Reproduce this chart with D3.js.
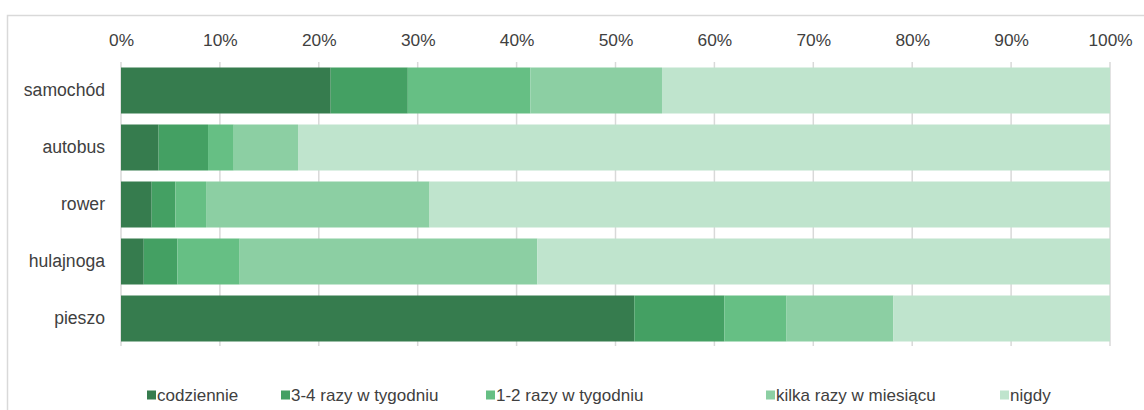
<!DOCTYPE html>
<html><head><meta charset="utf-8">
<script src="https://cdn.jsdelivr.net/npm/d3@7/dist/d3.min.js"></script>
<style>
html,body{margin:0;padding:0;background:#fff;}
svg{display:block;font-family:"Liberation Sans",Arial,sans-serif;}
</style></head>
<body>
<svg id="chart" width="1144" height="410"></svg>
<script>
const categories = ["samochód","autobus","rower","hulajnoga","pieszo"];
const seriesNames = ["codziennie","3-4 razy w tygodniu","1-2 razy w tygodniu","kilka razy w miesiącu","nigdy"];
const codziennie = [21.2, 3.8, 3.1, 2.3, 51.9];
const razy34     = [7.8, 5.0, 2.4, 3.4, 9.1];
const razy12     = [12.4, 2.6, 3.1, 6.3, 6.3];
const kilka      = [13.3, 6.5, 22.6, 30.1, 10.8];
const nigdy      = [45.3, 82.1, 68.8, 57.9, 21.9];
const tickValues = [0,10,20,30,40,50,60,70,80,90,100];
const colors = ["#367c4e","#44a063","#66bf84","#8ccfa3","#bfe4cd"];

const seriesValues = [codziennie, razy34, razy12, kilka, nigdy];
const rows = categories.map((c,i)=>{
  const o = {cat:c};
  seriesNames.forEach((s,j)=>{ o[s]=seriesValues[j][i]; });
  return o;
});

const svg = d3.select("#chart");
svg.append("rect").attr("x",7.5).attr("y",15.5).attr("width",1300).attr("height",600)
  .attr("fill","none").attr("stroke","#d9d9d9").attr("stroke-width",1.5);

const x = d3.scaleLinear().domain([0,100]).range([121,1110]);
const y = d3.scaleBand().domain(categories).range([62,347]).paddingInner(0.193).paddingOuter(0.0965);

svg.append("g").selectAll("line").data(tickValues).join("line")
  .attr("x1",d=>x(d)).attr("x2",d=>x(d)).attr("y1",62).attr("y2",346)
  .attr("stroke","#d9d9d9").attr("stroke-width",1.5);

const xAxis = d3.axisTop(x).tickValues(tickValues).tickFormat(d=>d+"%").tickSize(0).tickPadding(0);
const gx = svg.append("g").attr("transform","translate(0,46)").call(xAxis);
gx.select(".domain").remove();
gx.selectAll("text").attr("font-size",17.3).attr("fill","#404040").attr("font-family","Liberation Sans, Arial, sans-serif");

const stack = d3.stack().keys(seriesNames)(rows);
svg.append("g").selectAll("g").data(stack).join("g")
  .attr("fill",(d,i)=>colors[i])
  .selectAll("rect").data(d=>d).join("rect")
  .attr("x",d=>x(d[0])).attr("width",d=>x(d[1])-x(d[0]))
  .attr("y",d=>y(d.data.cat)).attr("height",y.bandwidth());

const yAxis = d3.axisLeft(y).tickSize(0).tickPadding(16);
const gy = svg.append("g").attr("transform","translate(121,0)").call(yAxis);
gy.select(".domain").remove();
gy.selectAll("text").attr("font-size",17.6).attr("fill","#404040").attr("font-family","Liberation Sans, Arial, sans-serif");

const legendX = [147,281,486,766,1000];
const lg = svg.append("g").selectAll("g").data(seriesNames).join("g")
  .attr("transform",(d,i)=>`translate(${legendX[i]},395)`);
lg.append("rect").attr("x",0).attr("y",-4.5).attr("width",9).attr("height",9).attr("fill",(d,i)=>colors[i]);
lg.append("text").attr("x",10).attr("y",0).attr("dy","0.35em").attr("font-size",17).attr("fill","#404040").text(d=>d);
</script>
</body></html>
